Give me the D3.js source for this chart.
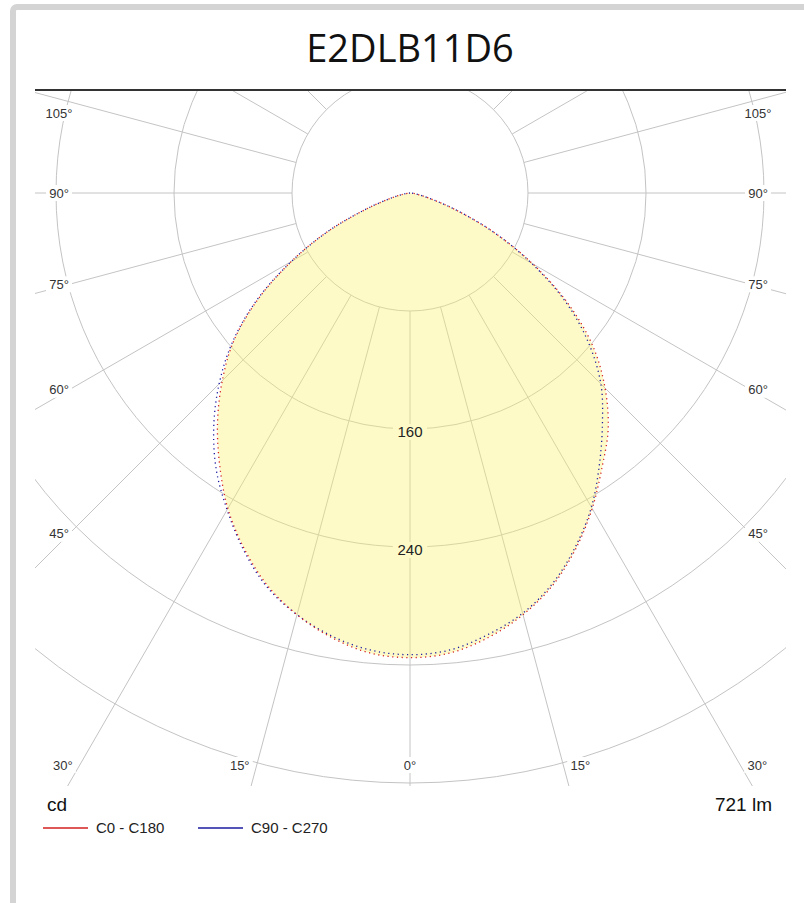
<!DOCTYPE html>
<html>
<head>
<meta charset="utf-8">
<script src="https://cdn.jsdelivr.net/npm/d3@7"></script>
<style>
	body { margin: 0; background: #fff; }
	svg text { font-family: "Liberation Sans", Arial, sans-serif; }
</style>
</head>
<body>
<script>
// luminous intensity (cd) every 5 degrees, 0 = straight down
const gammas = [0, 5, 10, 15, 20, 25, 30, 35, 40, 45, 50, 55, 60, 65, 70, 75, 80, 85, 90];
const c0   = [315, 313, 306, 296, 283, 266, 247, 227, 209, 187, 162, 131, 96, 62, 32, 13, 5, 1, 0];
const c180 = [315, 313, 306, 296, 283, 266, 247, 225, 203, 180, 156, 126, 93, 61, 31, 13, 5, 1, 0];
const c90  = [313, 311, 304, 295, 282, 265, 246, 224, 203, 183, 158, 129, 95, 62, 32, 13, 5, 1, 0];
const c270 = [313, 311, 305, 296, 284, 267, 248, 229, 207, 183, 157, 127, 93, 61, 31, 13, 5, 1, 0];

const rings = [80, 160, 240, 320, 400];
const ringLabels = [160, 240];
const sideAngles = [105, 90, 75, 60, 45];
const bottomAngles = [30, 15, 0];

const title = 'E2DLB11D6';
const flux = '721 lm';
const legend = [
	{ name: 'C0 - C180', color: '#d42020' },
	{ name: 'C90 - C270', color: '#1a1aa0' }
];

const width = 804;
const height = 903;
const cx = 410;
const cy = 193;

const svg = d3.select('body')
	.append('svg')
	.attr('width', width)
	.attr('height', height);

// grey frame round the page
svg.append('rect')
	.attr('x', 13).attr('y', 7)
	.attr('width', 1000).attr('height', 1000)
	.attr('rx', 4)
	.attr('fill', 'none')
	.attr('stroke', '#d4d4d4')
	.attr('stroke-width', 6);

svg.append('text')
	.attr('x', cx).attr('y', 62)
	.attr('text-anchor', 'middle')
	.style('font-family', '"Open Sans", sans-serif')
	.style('font-size', '38px')
	.attr('fill', '#111')
	.text(title);

svg.append('line')
	.attr('x1', 35).attr('x2', 786)
	.attr('y1', 90).attr('y2', 90)
	.attr('stroke', '#333')
	.attr('stroke-width', 2);

const r = d3.scaleLinear().domain([0, 80]).range([0, 118]);

svg.append('clipPath').attr('id', 'plot')
	.append('rect')
	.attr('x', 35).attr('y', 91)
	.attr('width', 751).attr('height', 695);

const plot = svg.append('g').attr('clip-path', 'url(#plot)');
const g = plot.append('g').attr('transform', 'translate(' + cx + ',' + cy + ')');

function pt(deg, rad) {
	const a = deg * Math.PI / 180;
	return [rad * Math.sin(a), rad * Math.cos(a)];
}

// spokes every 15 degrees, starting at the first ring
g.selectAll('.spoke')
	.data(d3.range(0, 360, 15))
	.enter()
	.append('line')
	.attr('class', 'spoke')
	.attr('x1', function(d) { return pt(d, r(rings[0]))[0]; })
	.attr('y1', function(d) { return pt(d, r(rings[0]))[1]; })
	.attr('x2', function(d) { return pt(d, 900)[0]; })
	.attr('y2', function(d) { return pt(d, 900)[1]; })
	.attr('stroke', '#c4c4c4')
	.attr('stroke-width', 1);

g.selectAll('.ring')
	.data(rings)
	.enter()
	.append('circle')
	.attr('class', 'ring')
	.attr('r', function(d) { return r(d); })
	.attr('fill', 'none')
	.attr('stroke', '#c4c4c4')
	.attr('stroke-width', 1);

// polar curve: left half from 90 down to 0, right half from 0 up to 90
function halfPoints(left, right) {
	const pts = [];
	for (let i = gammas.length - 1; i >= 0; i--) {
		pts.push([Math.PI + gammas[i] * Math.PI / 180, left[i]]);
	}
	for (let i = 1; i < gammas.length; i++) {
		pts.push([Math.PI - gammas[i] * Math.PI / 180, right[i]]);
	}
	return pts;
}

const radial = d3.lineRadial()
	.angle(function(d) { return d[0]; })
	.radius(function(d) { return r(d[1]); })
	.curve(d3.curveCatmullRom.alpha(0.5));

const curveA = halfPoints(c180, c0);
const curveB = halfPoints(c270, c90);

g.append('path')
	.attr('d', radial(curveA) + 'Z')
	.attr('fill', 'rgba(252,243,110,0.38)')
	.attr('stroke', 'none');

g.append('path')
	.attr('d', radial(curveB))
	.attr('fill', 'none')
	.attr('stroke', legend[1].color)
	.attr('stroke-width', 1.3)
	.attr('stroke-dasharray', '1.2,3.5');

g.append('path')
	.attr('d', radial(curveA))
	.attr('fill', 'none')
	.attr('stroke', legend[0].color)
	.attr('stroke-width', 1.3)
	.attr('stroke-dasharray', '1.2,3.5')
	.attr('stroke-dashoffset', 2);

// ring values on the 0 degree spoke
const rl = g.selectAll('.rlabel')
	.data(ringLabels)
	.enter()
	.append('g')
	.attr('class', 'rlabel')
	.attr('transform', function(d) { return 'translate(0,' + (r(d) + 3) + ')'; });
rl.append('rect')
	.attr('x', -17).attr('y', -8)
	.attr('width', 34).attr('height', 16)
	.attr('fill', '#fdfac8');
rl.append('text')
	.attr('text-anchor', 'middle')
	.attr('dy', '0.36em')
	.style('font-size', '15px')
	.attr('fill', '#222')
	.text(function(d) { return d; });

// angle labels round the edge of the plot
const angleLabels = [];
sideAngles.forEach(function(a) {
	const t = a * Math.PI / 180;
	const y = Math.max(113, cy + 355 * Math.cos(t) / Math.sin(t) * 0.96);
	angleLabels.push({ a: a, x: cx - 351, y: y });
	angleLabels.push({ a: a, x: cx + 348, y: y });
});
bottomAngles.forEach(function(a) {
	const t = a * Math.PI / 180;
	const dx = a === 0 ? 0 : 572 * Math.tan(t) + 17;
	angleLabels.push({ a: a, x: cx - dx, y: 765 });
	if (a !== 0) angleLabels.push({ a: a, x: cx + dx, y: 765 });
});

const al = svg.selectAll('.alabel')
	.data(angleLabels)
	.enter()
	.append('g')
	.attr('class', 'alabel')
	.attr('transform', function(d) { return 'translate(' + d.x + ',' + d.y + ')'; });
al.append('rect')
	.attr('x', function(d) { return d.a >= 100 ? -17 : -13; })
	.attr('y', -8)
	.attr('width', function(d) { return d.a >= 100 ? 34 : 26; })
	.attr('height', 16)
	.attr('fill', '#fff');
al.append('text')
	.attr('text-anchor', 'middle')
	.attr('dy', '0.36em')
	.style('font-size', '13px')
	.attr('fill', '#333')
	.text(function(d) { return d.a + '°'; });

svg.append('text')
	.attr('x', 47).attr('y', 811)
	.style('font-size', '19px')
	.attr('fill', '#111')
	.text('cd');

svg.append('text')
	.attr('x', 772).attr('y', 811)
	.attr('text-anchor', 'end')
	.style('font-size', '19px')
	.attr('fill', '#111')
	.text(flux);

const lg = svg.selectAll('.legend')
	.data(legend)
	.enter()
	.append('g')
	.attr('class', 'legend')
	.attr('transform', function(d, i) { return 'translate(' + (43 + i * 155) + ',828)'; });
lg.append('line')
	.attr('x1', 0).attr('x2', 45)
	.attr('stroke', function(d) { return d.color; })
	.attr('stroke-width', 1.5);
lg.append('text')
	.attr('x', 53)
	.attr('dy', '0.36em')
	.style('font-size', '15px')
	.attr('fill', '#222')
	.text(function(d) { return d.name; });
</script>
</body>
</html>
